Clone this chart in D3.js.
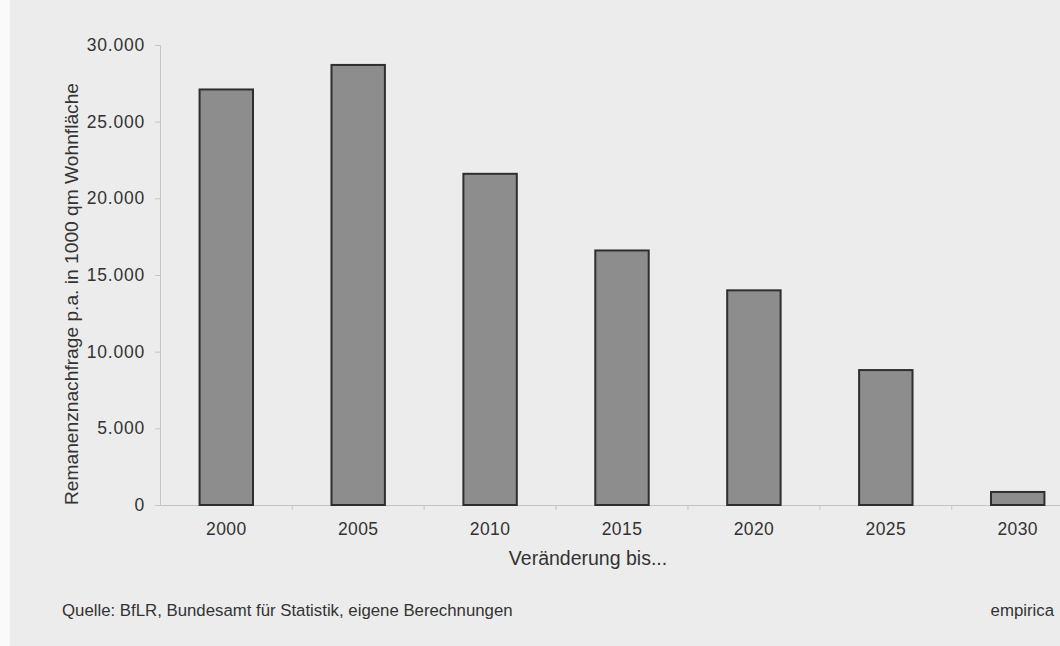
<!DOCTYPE html>
<html>
<head>
<meta charset="utf-8">
<script src="https://cdn.jsdelivr.net/npm/d3@7"></script>
<style>
  body { margin: 0; background: #ececec; }
  svg { display: block; font-family: "Liberation Sans", Arial, sans-serif; }
</style>
</head>
<body>
<svg id="chart"></svg>
<script>
// data
const years = ['2000', '2005', '2010', '2015', '2020', '2025', '2030'];
const demand = [27100, 28700, 21600, 16600, 14000, 8800, 850];
const yTicks = [0, 5000, 10000, 15000, 20000, 25000, 30000];

const width = 1060, height = 646;
const svg = d3.select('#chart').attr('width', width).attr('height', height);

// paper
svg.append('rect').attr('width', width).attr('height', height).attr('fill', '#ececec');
svg.append('rect').attr('width', 10).attr('height', height).attr('fill', '#fafafa');

const x = d3.scaleBand().domain(years).range([160, 1084]).paddingInner(0.595).paddingOuter(0.3);
const y = d3.scaleLinear().domain([0, 30000]).range([505, 45]);

const fmt = d => d === 0 ? '0' : d3.format(',')(d).replace(',', '.');

// y axis
const gy = svg.append('g').attr('transform', 'translate(160,0)')
  .call(d3.axisLeft(y).tickValues(yTicks).tickSize(5).tickPadding(10).tickFormat(fmt));
gy.select('.domain').attr('stroke', '#c4c4c4');
gy.selectAll('.tick line').attr('stroke', '#c4c4c4');
gy.selectAll('.tick text').attr('fill', '#333').attr('font-size', 17.5).attr('letter-spacing', 0.8);

// x axis
const gx = svg.append('g').attr('transform', 'translate(0,505)')
  .call(d3.axisBottom(x).tickSize(0).tickPadding(18));
gx.select('.domain').attr('stroke', '#c4c4c4');
gx.selectAll('.tick text').attr('fill', '#333').attr('font-size', 17.5).attr('letter-spacing', 0.4);

// separators between categories
const step = x.step();
gx.selectAll('.sep').data(years.slice(1)).enter().append('line')
  .attr('x1', d => x(d) + x.bandwidth() / 2 - step / 2)
  .attr('x2', d => x(d) + x.bandwidth() / 2 - step / 2)
  .attr('y1', 0).attr('y2', 5).attr('stroke', '#c4c4c4');

// bars
svg.append('g').selectAll('rect').data(demand).enter().append('rect')
  .attr('x', (d, i) => x(years[i]))
  .attr('y', d => y(d))
  .attr('width', x.bandwidth())
  .attr('height', d => y(0) - y(d))
  .attr('fill', '#8d8d8d')
  .attr('stroke', '#2e2e2e')
  .attr('stroke-width', 2);

// titles
svg.append('text').attr('x', 588).attr('y', 565).attr('text-anchor', 'middle')
  .attr('font-size', 19.5).attr('fill', '#333').text('Veränderung bis...');

svg.append('text').attr('transform', 'translate(78,294) rotate(-90)').attr('text-anchor', 'middle')
  .attr('font-size', 19.2).attr('fill', '#333').text('Remanenznachfrage p.a. in 1000 qm Wohnfläche');

svg.append('text').attr('x', 62).attr('y', 616)
  .attr('font-size', 16.8).attr('fill', '#333').text('Quelle: BfLR, Bundesamt für Statistik, eigene Berechnungen');
svg.append('text').attr('x', 1054).attr('y', 616).attr('text-anchor', 'end')
  .attr('font-size', 16.8).attr('fill', '#333').text('empirica');
</script>
</body>
</html>
